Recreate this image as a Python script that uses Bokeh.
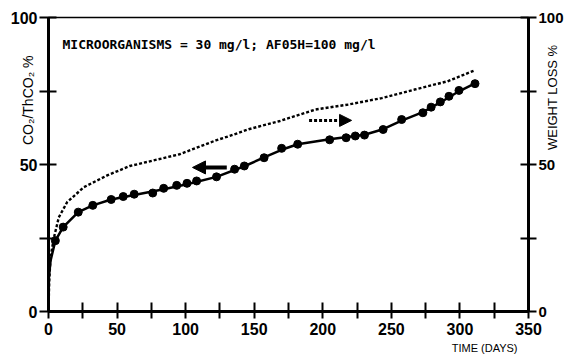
import math
from bokeh.plotting import figure
from bokeh.models import (Range1d, LinearAxis, FixedTicker, Label, Arrow,
                          NormalHead, Title)
from bokeh.embed import file_html
from bokeh.resources import INLINE

# ---- data ----
dot_days = [5, 10.7, 21.7, 32.3, 45.7, 54.5, 62.5, 76, 84, 93.5, 101, 108,
            122.5, 135.7, 142.8, 157.2, 170, 181.7, 205, 217, 223.7, 230.4,
            244, 257.5, 273, 279, 285.7, 292, 299.3, 311]
dot_co2 = [24.1, 28.7, 33.8, 36.1, 38.1, 39.1, 39.9, 40.3, 41.9, 42.9, 43.6,
           44.4, 45.8, 48.4, 49.5, 52.3, 55.5, 56.9, 58.4, 59.1, 59.7, 60.0,
           61.9, 65.3, 67.6, 69.5, 71.3, 73.2, 75.2, 77.5]

co2_curve_days = [0, 0.3, 1.5, 5, 10.7, 21.7, 32.3, 45.7, 62.5, 84, 101,
                  122.5, 142.8, 157.2, 170, 181.7, 205, 230.4, 244, 257.5,
                  273, 285.7, 299.3, 311]
co2_curve_vals = [0, 11.7, 17.3, 24.1, 28.7, 33.8, 36.1, 38.1, 39.6, 41.6,
                  43.3, 45.8, 49.4, 52.4, 55.0, 56.9, 58.6, 60.1, 62.0, 64.9,
                  67.8, 71.1, 74.9, 77.6]

wl_days = [0, 0.5, 1.5, 3.9, 7.5, 13.6, 25.8, 42.8, 59.4, 65.9, 95.7, 122,
           132, 146, 168, 194.7, 218.8, 243, 267, 291, 310.6]
wl_vals = [0, 10, 18.5, 25, 32, 37.2, 42.3, 46.3, 49.5, 50.2, 53.5, 58.2,
           59.7, 62, 64.7, 68.7, 70.4, 72.6, 75.5, 78.3, 82]

x_ticks = [0, 25, 50, 75, 100, 125, 150, 175, 200, 225, 250, 275, 300, 325, 350]
x_labels = {0: "0", 50: "50", 100: "100", 150: "150", 200: "200",
            250: "250", 300: "300", 350: "350"}
y_ticks = [0, 25, 50, 75, 100]
y_labels = {0: "0", 50: "50", 100: "100"}

note_text = "MICROORGANISMS = 30 mg/l; AF05H=100 mg/l"
left_title = "CO₂/ThCO₂ %"
right_title = "WEIGHT  LOSS %"
x_title = "TIME (DAYS)"
arrow_co2 = [130, 105, 49]      # x_start, x_end, y
arrow_wl = [190, 221, 65]

FONT = "Liberation Sans"
NBSP = "\u00a0"

p = figure(frame_width=480, frame_height=294, x_range=Range1d(0, 350),
           y_range=Range1d(0, 100), output_backend="svg",
           toolbar_location=None, min_border_left=48, min_border_right=38,
           min_border_top=17, min_border_bottom=46,
           x_axis_location=None, y_axis_location=None)
p.xgrid.visible = False
p.ygrid.visible = False
p.outline_line_color = "black"
p.outline_line_width = 1.5
p.background_fill_color = "white"
p.border_fill_color = "white"


def style_axis(ax, ticks, labels, t_in, t_out, standoff, size="16px"):
    ax.ticker = FixedTicker(ticks=ticks)
    ax.major_label_overrides = {t: labels.get(t, "") for t in ticks}
    ax.minor_tick_line_color = None
    ax.major_tick_in = t_in
    ax.major_tick_out = t_out
    ax.major_tick_line_width = 2
    ax.axis_line_width = 3
    ax.axis_line_color = "black"
    ax.major_tick_line_color = "black"
    ax.major_label_text_font = FONT
    ax.major_label_text_font_style = "bold"
    ax.major_label_text_font_size = size
    ax.major_label_text_color = "black"
    ax.major_label_standoff = standoff
    ax.axis_label_text_font = FONT
    ax.axis_label_text_font_style = "normal"
    ax.axis_label_text_color = "black"


xa = LinearAxis()
style_axis(xa, x_ticks, x_labels, 9, 7, 4)
p.add_layout(xa, "below")

# left axis with its title pulled in next to the tick labels
ya = LinearAxis()
style_axis(ya, y_ticks, y_labels, 8, 9, 2)
ya.axis_label = NBSP * 33 + left_title
ya.axis_label_text_font_size = "14px"
ya.axis_label_standoff = -28
p.add_layout(ya, "left")

p.extra_y_ranges = {"wl": Range1d(0, 100)}
yr = LinearAxis(y_range_name="wl")
style_axis(yr, y_ticks, y_labels, 8, 8, 2, "15px")
yr.axis_label_text_font_size = "13px"
yr.axis_label_standoff = -14
if "axis_label_orientation" in yr.properties():
    yr.axis_label_orientation = math.pi / 2
    yr.axis_label = NBSP * 4 + right_title
else:
    yr.axis_label = right_title + NBSP * 37
p.add_layout(yr, "right")

p.add_layout(Title(text=x_title, align="right", offset=11, standoff=4,
                   text_font=FONT, text_font_size="11px",
                   text_font_style="normal", text_color="black"), "below")

# curves
p.line(wl_days, wl_vals, line_color="black", line_width=2.4,
       line_dash="3 2", y_range_name="wl")
p.line(co2_curve_days, co2_curve_vals, line_color="black", line_width=2.5)
p.scatter(dot_days, dot_co2, size=8, fill_color="black", line_color="black")

# arrows
p.add_layout(Arrow(end=NormalHead(size=13, fill_color="black",
                                  line_color="black"),
                   x_start=arrow_co2[0], x_end=arrow_co2[1],
                   y_start=arrow_co2[2], y_end=arrow_co2[2],
                   line_width=4, line_color="black"))
p.add_layout(Arrow(end=NormalHead(size=12, fill_color="black",
                                  line_color="black"),
                   x_start=arrow_wl[0], x_end=arrow_wl[1],
                   y_start=arrow_wl[2], y_end=arrow_wl[2],
                   line_width=3, line_color="black", line_dash="3 2"))

# note text (screen units are relative to the plot frame)
p.add_layout(Label(x=14, y=267, x_units="screen", y_units="screen",
                   text=note_text, text_font="DejaVu Sans Mono",
                   text_font_style="bold", text_font_size="13px",
                   text_baseline="middle", text_color="black"))

open("out.html", "w").write(file_html(p, INLINE))
